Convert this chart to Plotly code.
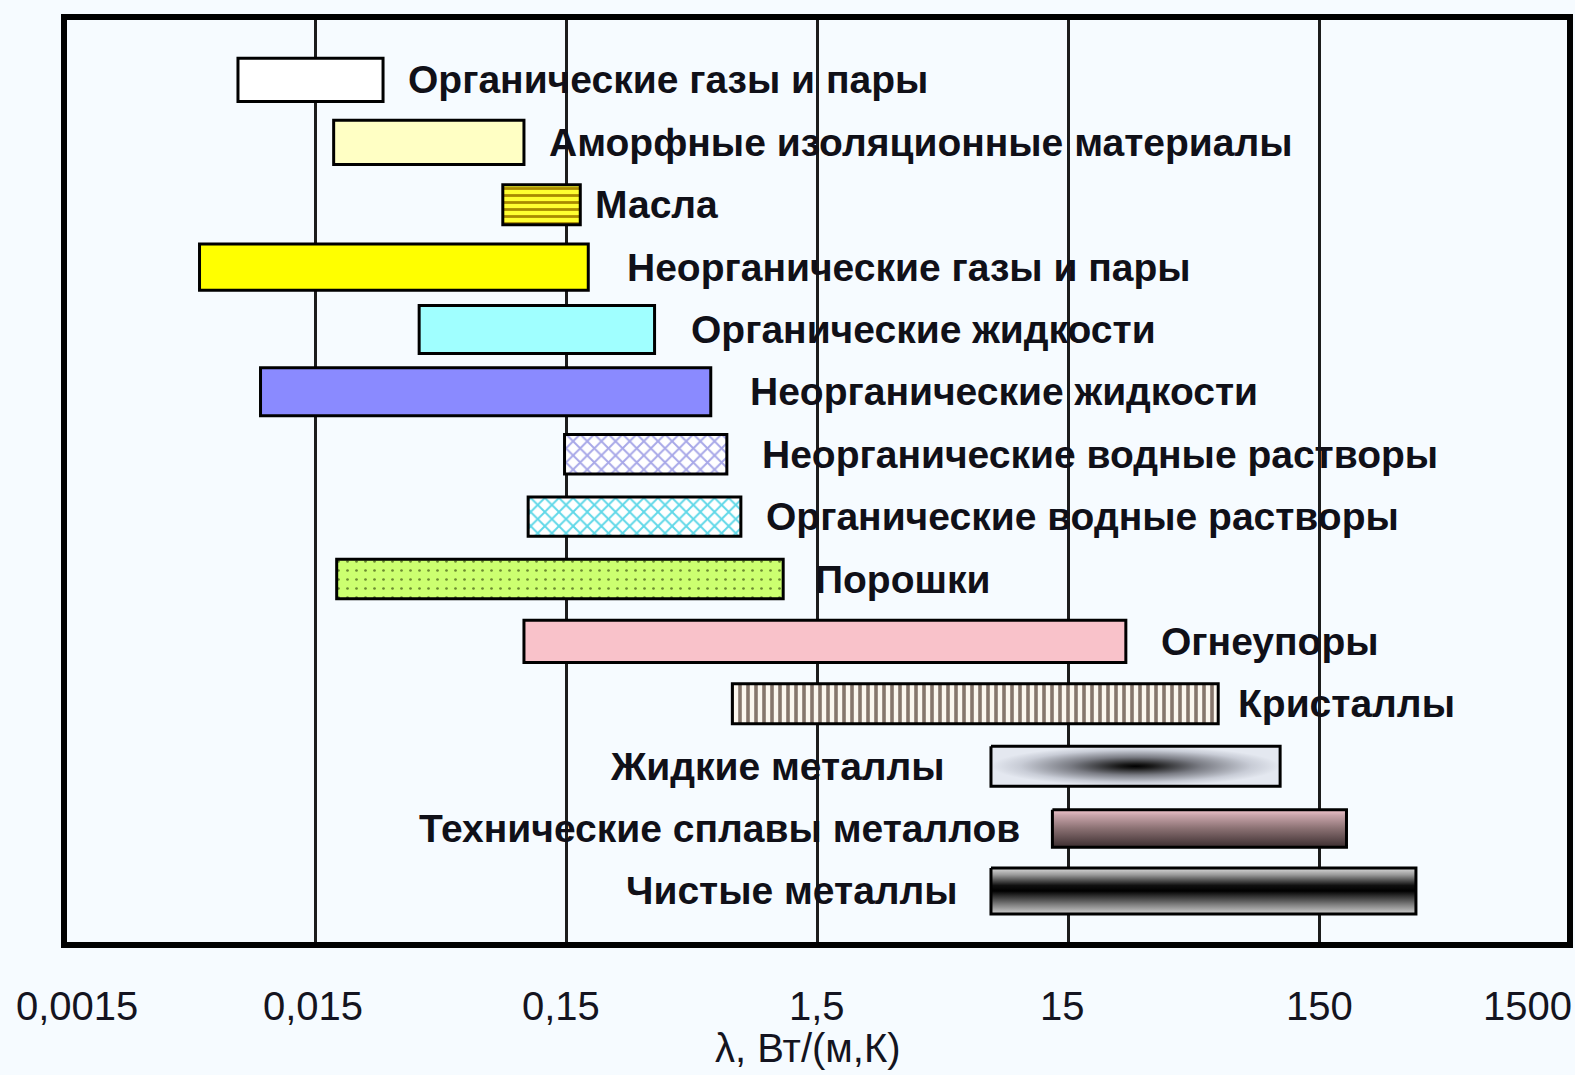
import numpy as np
import plotly.graph_objects as go

# ---------------- data ----------------
categories = [
    "Органические газы и пары",
    "Аморфные изоляционные материалы",
    "Масла",
    "Неорганические газы и пары",
    "Органические жидкости",
    "Неорганические жидкости",
    "Неорганические водные растворы",
    "Органические водные растворы",
    "Порошки",
    "Огнеупоры",
    "Кристаллы",
    "Жидкие металлы",
    "Технические сплавы металлов",
    "Чистые металлы",
]
lam_min = [0.0074, 0.0178, 0.084, 0.0052, 0.039, 0.0091, 0.148, 0.106, 0.0183, 0.102, 0.69, 7.4, 13.0, 7.4]
lam_max = [0.028, 0.102, 0.171, 0.184, 0.338, 0.566, 0.656, 0.746, 1.10, 25.5, 59.5, 105.0, 193.0, 365.0]
label_side = ["right"] * 11 + ["left"] * 3

tick_vals = [0.0015, 0.015, 0.15, 1.5, 15, 150, 1500]
tick_text = ["0,0015", "0,015", "0,15", "1,5", "15", "150", "1500"]
axis_title = "λ, Вт/(м,К)"

# ---------------- styles ----------------
BG = "#f6fbff"
TXT = "#141420"
label_gap = [23, 23, 13, 37, 34, 37, 33, 23, 30, 33, 18, 44, 30, 31]
bar_h = [0.69, 0.71, 0.64, 0.74, 0.77, 0.77, 0.63, 0.63, 0.63, 0.68, 0.64, 0.64, 0.60, 0.74]
tick_xshift = [13, -2, -5, 0, -6, 0, -43]
styles = [
    dict(color="#ffffff"),
    dict(color="#ffffc4"),
    dict(color="#ffff00", pattern=dict(shape="-", fgcolor="#a88a00", bgcolor="#ffff30", size=7, solidity=0.4)),
    dict(color="#ffff00"),
    dict(color="#a0ffff"),
    dict(color="#8a8aff"),
    dict(color="#ffffff", pattern=dict(shape="x", fgcolor="#a8a8e8", bgcolor="#ffffff", size=10, solidity=0.35)),
    dict(color="#ffffff", pattern=dict(shape="x", fgcolor="#60d8e8", bgcolor="#ffffff", size=10, solidity=0.35)),
    dict(color="#ccff66", pattern=dict(shape=".", fgcolor="#6a8a30", bgcolor="#ccff70", size=9, solidity=0.07)),
    dict(color="#f9c2ca"),
    dict(color="#ffffff", pattern=dict(shape="|", fgcolor="#86766c", bgcolor="#fbf6ee", size=8, solidity=0.45)),
    dict(gradient=dict(type="radial", colorscale=[[0, "#000000"], [0.12, "#1a1a1a"], [0.45, "#7a7c84"], [0.8, "#c8ccd6"], [1, "#e4e8f0"]])),
    dict(gradient=dict(type="vertical", colorscale=[[0, "#3c2e30"], [0.5, "#8a7072"], [0.85, "#c8a4aa"], [1, "#f0c4cc"]])),
    dict(gradient=dict(type="vertical", colorscale=[[0, "#d0d0d0"], [0.2, "#808080"], [0.5, "#000000"], [0.62, "#101010"], [0.85, "#9a9a9a"], [1, "#dcdcdc"]])),
]

fig = go.Figure()
for i, cat in enumerate(categories):
    st = styles[i]
    lo, hi = lam_min[i], lam_max[i]
    h = bar_h[i] / 2
    if "gradient" in st:
        fig.add_trace(go.Scatter(
            x=[lo, hi, hi, lo, lo], y=[i - h, i - h, i + h, i + h, i - h],
            mode="lines", fill="toself", fillgradient=st["gradient"],
            line=dict(color="black", width=3), hoverinfo="skip", name=cat))
    else:
        marker = dict(color=st["color"], line=dict(color="black", width=3))
        if "pattern" in st:
            marker["pattern"] = dict(fillmode="replace", **st["pattern"])
        fig.add_trace(go.Bar(
            y=[i], x=[hi - lo], base=[lo], orientation="h", width=bar_h[i],
            marker=marker, name=cat, hoverinfo="skip"))

# category labels
for i, cat in enumerate(categories):
    if label_side[i] == "right":
        x, anchor, shift = lam_max[i], "left", label_gap[i]
    else:
        x, anchor, shift = lam_min[i], "right", -label_gap[i]
    fig.add_annotation(
        x=np.log10(x), y=i, xref="x", yref="y", text=cat, showarrow=False,
        xanchor=anchor, yanchor="middle", xshift=shift,
        font=dict(family="Liberation Sans", size=39, color="#101018", weight="bold"))

# tick labels (placed on the log axis at the tick values)
for v, t, sh in zip(tick_vals, tick_text, tick_xshift):
    fig.add_annotation(
        x=np.log10(v), y=0, xref="x", yref="paper", text=t, showarrow=False,
        xanchor="center", yanchor="middle", xshift=sh, yshift=-61,
        font=dict(family="Liberation Sans", size=40, color=TXT))

# axis title
fig.add_annotation(
    x=0.494, y=0, xref="paper", yref="paper", text=axis_title, showarrow=False,
    xanchor="center", yanchor="middle", yshift=-103,
    font=dict(family="Liberation Sans", size=40, color=TXT))

fig.update_layout(
    width=1575, height=1075,
    margin=dict(l=64, r=5, t=17, b=130, autoexpand=False),
    paper_bgcolor=BG, plot_bgcolor=BG,
    showlegend=False, barmode="overlay",
    shapes=[dict(type="rect", xref="paper", yref="paper", x0=0, x1=1, y0=0, y1=1,
                 line=dict(color="black", width=6), layer="above")],
)
fig.update_xaxes(
    type="log", range=[np.log10(0.0015), np.log10(1500)], automargin=False,
    tickmode="array", tickvals=tick_vals, showticklabels=False,
    showgrid=True, gridcolor="#1c1c1c", gridwidth=3, zeroline=False,
    showline=False, ticks="",
)
fig.update_yaxes(
    range=[13.866, -1.008], showgrid=False, showticklabels=False, automargin=False,
    zeroline=False, showline=False, ticks="",
)

fig.write_html(
    "out.html",
    config={"displayModeBar": False},
    post_script="document.body.style.margin='0';document.body.style.background='" + BG + "';",
)
